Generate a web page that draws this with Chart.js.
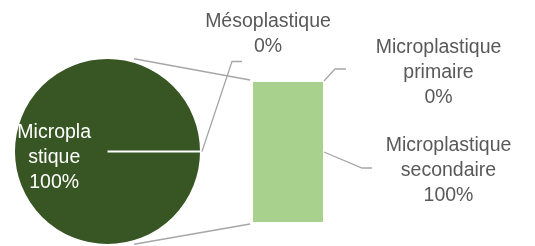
<!DOCTYPE html>
<html><head><meta charset="utf-8">
<script src="https://cdn.jsdelivr.net/npm/chart.js@4/dist/chart.umd.min.js"></script>
<style>
html,body{margin:0;padding:0;background:#fff;}
#wrap{position:relative;width:535px;height:246px;overflow:hidden;}
canvas{position:absolute;left:0;top:0;}
</style></head><body>
<div id="wrap"><canvas id="pie" width="535" height="246"></canvas><canvas id="bar" width="535" height="246"></canvas></div>
<script>
// ---- data ----
const pieLabels = ['Mésoplastique', 'Microplastique'];
const pieValues = [0, 100];
const pieLabelLines = [['Mésoplastique'], ['Micropla', 'stique']]; // as wrapped in the picture
const barLabels = ['Microplastique secondaire', 'Microplastique primaire'];
const barValues = [100, 0];
const barLabelLines = [['Microplastique', 'secondaire'], ['Microplastique', 'primaire']];

// ---- styles ----
const PIE_COLOR = '#375623';
const BAR_COLOR = '#A9D18E';
const LINE_COLOR = '#A6A6A6';
const TEXT_COLOR = '#595959';
const FONT = "19.5px 'Liberation Sans', Arial, sans-serif";
const LINE_H = 25;

const total = pieValues.reduce((a, b) => a + b, 0);
const pct = v => Math.round(v / total * 100) + '%';

const pieChart = new Chart(document.getElementById('pie'), {
  type: 'pie',
  data: { labels: pieLabels, datasets: [{ data: pieValues, backgroundColor: PIE_COLOR, borderColor: '#ffffff', borderWidth: 2 }] },
  options: {
    responsive: false, animation: false, rotation: 90,
    layout: { padding: { left: 12.5, right: 332.5, top: 57, bottom: 0 } },
    plugins: { legend: { display: false }, tooltip: { enabled: false } }
  }
});

function drawLines(ctx, lines, cx, baseline, color) {
  ctx.fillStyle = color;
  lines.forEach((t, i) => ctx.fillText(t, cx, baseline + i * LINE_H));
}
function poly(ctx, pts) {
  ctx.beginPath();
  ctx.moveTo(pts[0][0], pts[0][1]);
  for (let i = 1; i < pts.length; i++) ctx.lineTo(pts[i][0], pts[i][1]);
  ctx.stroke();
}

const overlay = {
  id: 'overlay',
  afterDraw(chart) {
    const ctx = chart.ctx;
    const pieMeta = pieChart.getDatasetMeta(0);
    const a0 = pieMeta.data[0], a1 = pieMeta.data[1];
    const cx = a1.x, cy = a1.y, R = a1.outerRadius;
    const m = chart.getDatasetMeta(0).data[0];   // secondaire
    const p = chart.getDatasetMeta(1).data[0];   // primaire
    const barL = m.x - m.width / 2, barR = m.x + m.width / 2;
    const barTop = Math.min(p.y, m.y), barBot = m.base;

    ctx.save();
    ctx.strokeStyle = LINE_COLOR;
    ctx.lineWidth = 1.3;
    // series lines pie -> bar
    const ang = 74 * Math.PI / 180, rr = R + 3;
    poly(ctx, [[cx + rr * Math.cos(-ang), cy + rr * Math.sin(-ang)], [barL - 3, barTop - 2]]);
    poly(ctx, [[cx + rr * Math.cos(ang), cy + rr * Math.sin(ang)], [barL - 3, barBot + 2]]);

    // leader: Mésoplastique (0% slice at its start angle)
    const sx = cx + (R + 1) * Math.cos(a0.startAngle), sy = cy + (R + 1) * Math.sin(a0.startAngle);
    poly(ctx, [[sx, sy], [sx + 30, sy - 90], [sx + 40, sy - 90]]);
    // leader: primaire
    poly(ctx, [[barR + 1, p.y - 1], [barR + 12, p.y - 13], [barR + 23, p.y - 13]]);
    // leader: secondaire
    const my = (m.y + m.base) / 2;
    poly(ctx, [[barR + 1, my], [barR + 39, my + 16], [barR + 49, my + 16]]);

    // labels
    ctx.font = FONT;
    ctx.textAlign = 'center';
    ctx.textBaseline = 'alphabetic';
    drawLines(ctx, [...pieLabelLines[0], pct(pieValues[0])], sx + 66, sy - 125, TEXT_COLOR);
    drawLines(ctx, [...barLabelLines[1], pct(barValues[1])], barR + 115.5, p.y - 29, TEXT_COLOR);
    drawLines(ctx, [...barLabelLines[0], pct(barValues[0])], barR + 125.5, my - 1, TEXT_COLOR);
    // inside pie label
    const mid = (a1.startAngle + a1.endAngle) / 2;
    drawLines(ctx, [...pieLabelLines[1], pct(pieValues[1])], cx + 0.57 * R * Math.cos(mid), cy + 0.57 * R * Math.sin(mid) - 14, '#ffffff');
    ctx.restore();
  }
};

new Chart(document.getElementById('bar'), {
  type: 'bar',
  data: {
    labels: [''],
    datasets: barLabels.map((l, i) => ({ label: l, data: [barValues[i]], backgroundColor: BAR_COLOR, borderWidth: 0, barPercentage: 1, categoryPercentage: 1 }))
  },
  options: {
    responsive: false, animation: false,
    layout: { padding: { left: 253, right: 212, top: 82, bottom: 24 } },
    scales: {
      x: { display: false, stacked: true },
      y: { display: false, stacked: true, min: 0, max: barValues.reduce((a, b) => a + b, 0) }
    },
    plugins: { legend: { display: false }, tooltip: { enabled: false } }
  },
  plugins: [overlay]
});
</script>
</body></html>
